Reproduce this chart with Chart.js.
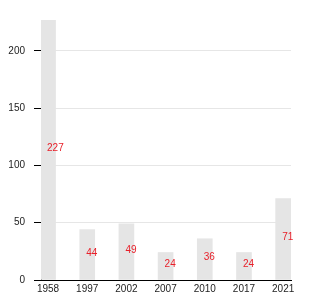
<!DOCTYPE html>
<html>
<head>
<meta charset="utf-8">
<script src="https://cdn.jsdelivr.net/npm/chart.js"></script>
<style>
  html, body { margin: 0; padding: 0; background: #fff; }
  #wrap { width: 330px; height: 300px; }
</style>
</head>
<body>
<div id="wrap"><canvas id="chart1"></canvas></div>
<script>
var years = ['1958', '1997', '2002', '2007', '2010', '2017', '2021'];
var counts = [227, 44, 49, 24, 36, 24, 71];
var yTicks = [0, 50, 100, 150, 200];

// red value labels, sitting at the middle of each bar
var valueLabels = {
  id: 'valueLabels',
  afterDatasetsDraw: function(chart) {
    var ctx = chart.ctx;
    var meta = chart.getDatasetMeta(0);
    ctx.save();
    ctx.font = '10px "Liberation Sans", Arial, sans-serif';
    ctx.fillStyle = '#e8202a';
    ctx.textAlign = 'left';
    ctx.textBaseline = 'alphabetic';
    meta.data.forEach(function(bar, i) {
      ctx.fillText(String(counts[i]), bar.x - 1, (bar.y + bar.base) / 2 + 1);
    });
    ctx.restore();
  }
};

document.addEventListener('DOMContentLoaded', function() {
  Chart.defaults.font.family = '"Liberation Sans", Arial, sans-serif';
  Chart.defaults.font.size = 10;
  Chart.defaults.color = '#222';

  new Chart('chart1', {
    type: 'bar',
    data: {
      datasets: [{
        data: counts.map(function(v, i) { return {x: i, y: v}; }),
        backgroundColor: '#e5e5e5',
        barThickness: 15
      }]
    },
    options: {
      responsive: true,
      maintainAspectRatio: false,
      animation: false,
      events: [],
      layout: { padding: { left: 0, right: 39, top: 20, bottom: 0 } },
      plugins: { legend: { display: false }, tooltip: { enabled: false } },
      scales: {
        x: {
          type: 'linear',
          offset: false,
          min: -0.18,
          max: 6.2,
          afterBuildTicks: function(scale) {
            scale.ticks = years.map(function(y, i) { return {value: i}; });
          },
          afterFit: function(scale) { scale.height = 20; },
          ticks: {
            padding: 3,
            maxRotation: 0,
            callback: function(v) { return years[v]; }
          },
          grid: { display: false, drawTicks: false, offset: false },
          border: { display: true, color: '#000', width: 1 }
        },
        y: {
          min: 0,
          max: Math.max.apply(null, counts),
          afterBuildTicks: function(scale) {
            scale.ticks = yTicks.map(function(v) { return {value: v}; });
          },
          afterFit: function(scale) { scale.width = 41; },
          ticks: { padding: 9 },
          grid: { color: '#e6e6e6', tickColor: '#000', tickLength: 7 },
          border: { display: true, color: '#000', width: 1 }
        }
      }
    },
    plugins: [valueLabels]
  });
});
</script>
</body>
</html>
